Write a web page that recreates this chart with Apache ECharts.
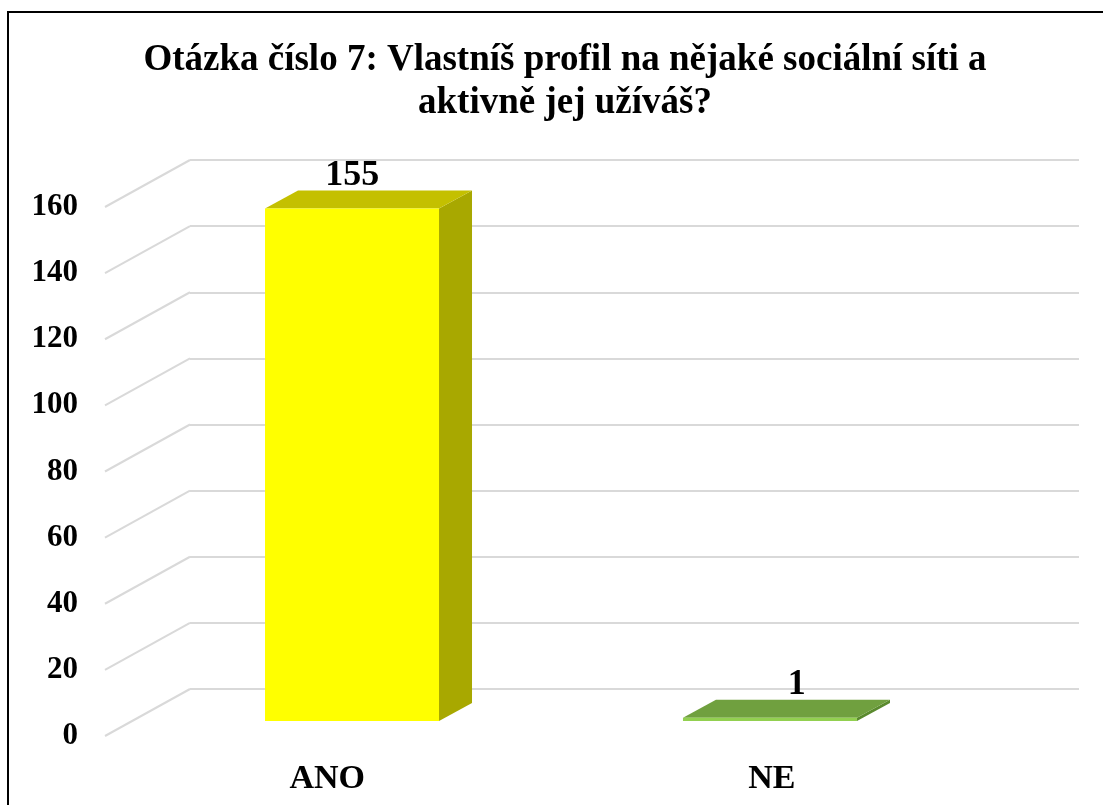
<!DOCTYPE html>
<html>
<head>
<meta charset="utf-8">
<script src="https://cdn.jsdelivr.net/npm/echarts@6/dist/echarts.min.js"></script>
<style>
  html, body { margin: 0; padding: 0; background: #fff; }
  #main { width: 1103px; height: 805px; }
</style>
</head>
<body>
<div id="main"></div>
<script>
// data
const categories = ['ANO', 'NE'];
const values = [155, 1];
const yTicks = [0, 20, 40, 60, 80, 100, 120, 140, 160];

const FONT = '"Liberation Serif", "Times New Roman", serif';
// back wall offset and bar depth (pixels)
const WALL = [85, -47];
const BAR_FRONT_DY = -15;
const BAR_DEPTH = [33, -18];
const BAR_W = 174;

const faceColors = [
    { front: '#ffff00', top: '#c4c000', side: '#a8a800' },
    { front: '#92d050', top: '#70a03f', side: '#5a8a2e' }
];

const chart = echarts.init(document.getElementById('main'));

const option = {
    backgroundColor: '#fff',
    animation: false,
    title: {
        text: 'Otázka číslo 7: Vlastníš profil na nějaké sociální síti a\naktivně jej užíváš?',
        left: 560,
        top: 34,
        textAlign: 'center',
        textStyle: { fontFamily: FONT, fontWeight: 'bold', fontSize: 37, lineHeight: 43, color: '#000' }
    },
    graphic: [{
        type: 'rect',
        shape: { x: 8, y: 12, width: 1200, height: 900 },
        style: { fill: 'none', stroke: '#000', lineWidth: 2 },
        z: 100
    }],
    grid: [
        // front plane
        { left: 105, right: 109, top: 207, bottom: 69 },
        // back wall
        { left: 190, right: 24, top: 160, bottom: 116 }
    ],
    xAxis: [
        {
            type: 'category', gridIndex: 0, data: categories,
            axisLine: { show: false }, axisTick: { show: false },
            axisLabel: { margin: 26, color: '#000', fontFamily: FONT, fontWeight: 'bold', fontSize: 34 }
        },
        { type: 'value', gridIndex: 0, min: -0.591, max: 1.536, show: false },
        { type: 'category', gridIndex: 1, data: categories, show: false }
    ],
    yAxis: [
        {
            type: 'value', gridIndex: 0, min: 0, max: 160, interval: 20,
            axisLine: { show: false }, axisTick: { show: false }, splitLine: { show: false },
            axisLabel: { margin: 27, color: '#000', fontFamily: FONT, fontWeight: 'bold', fontSize: 31 }
        },
        {
            type: 'value', gridIndex: 1, min: 0, max: 160, interval: 20,
            axisLine: { show: false }, axisTick: { show: false }, axisLabel: { show: false },
            splitLine: { lineStyle: { color: '#d9d9d9', width: 2 } }
        }
    ],
    series: [
        {
            // diagonal side wall lines
            type: 'custom',
            xAxisIndex: 1, yAxisIndex: 0,
            data: yTicks,
            silent: true,
            renderItem: function (params, api) {
                const p = api.coord([-0.591, api.value(0)]);
                return {
                    type: 'line',
                    shape: { x1: p[0], y1: p[1], x2: p[0] + WALL[0], y2: p[1] + WALL[1] },
                    style: { stroke: '#d9d9d9', lineWidth: 2 }
                };
            }
        },
        {
            // 3D bars
            type: 'custom',
            xAxisIndex: 1, yAxisIndex: 0,
            data: values.map(function (v, i) { return [i, v]; }),
            z: 5,
            renderItem: function (params, api) {
                const i = api.value(0);
                const base = api.coord([i, 0]);
                const top = api.coord([i, api.value(1)]);
                const c = faceColors[i];
                const x0 = base[0] - BAR_W / 2, x1 = base[0] + BAR_W / 2;
                const yb = base[1] + BAR_FRONT_DY, yt = top[1] + BAR_FRONT_DY;
                const dx = BAR_DEPTH[0], dy = BAR_DEPTH[1];
                return {
                    type: 'group',
                    children: [
                        { type: 'polygon', shape: { points: [[x1, yt], [x1 + dx, yt + dy], [x1 + dx, yb + dy], [x1, yb]] }, style: { fill: c.side } },
                        { type: 'polygon', shape: { points: [[x0, yt], [x0 + dx, yt + dy], [x1 + dx, yt + dy], [x1, yt]] }, style: { fill: c.top } },
                        { type: 'rect', shape: { x: x0, y: yt, width: BAR_W, height: yb - yt }, style: { fill: c.front } }
                    ]
                };
            }
        },
        {
            // value labels
            type: 'custom',
            xAxisIndex: 0, yAxisIndex: 0,
            data: values.map(function (v, i) { return [i, v]; }),
            z: 6,
            renderItem: function (params, api) {
                const p = api.coord([api.value(0), api.value(1)]);
                return {
                    type: 'text',
                    x: p[0] + 25, y: p[1] + BAR_FRONT_DY + BAR_DEPTH[1] + 3,
                    style: {
                        text: String(api.value(1)), align: 'center', verticalAlign: 'bottom',
                        font: 'bold 36px ' + FONT, fill: '#000'
                    }
                };
            }
        }
    ]
};

chart.setOption(option);
</script>
</body>
</html>
